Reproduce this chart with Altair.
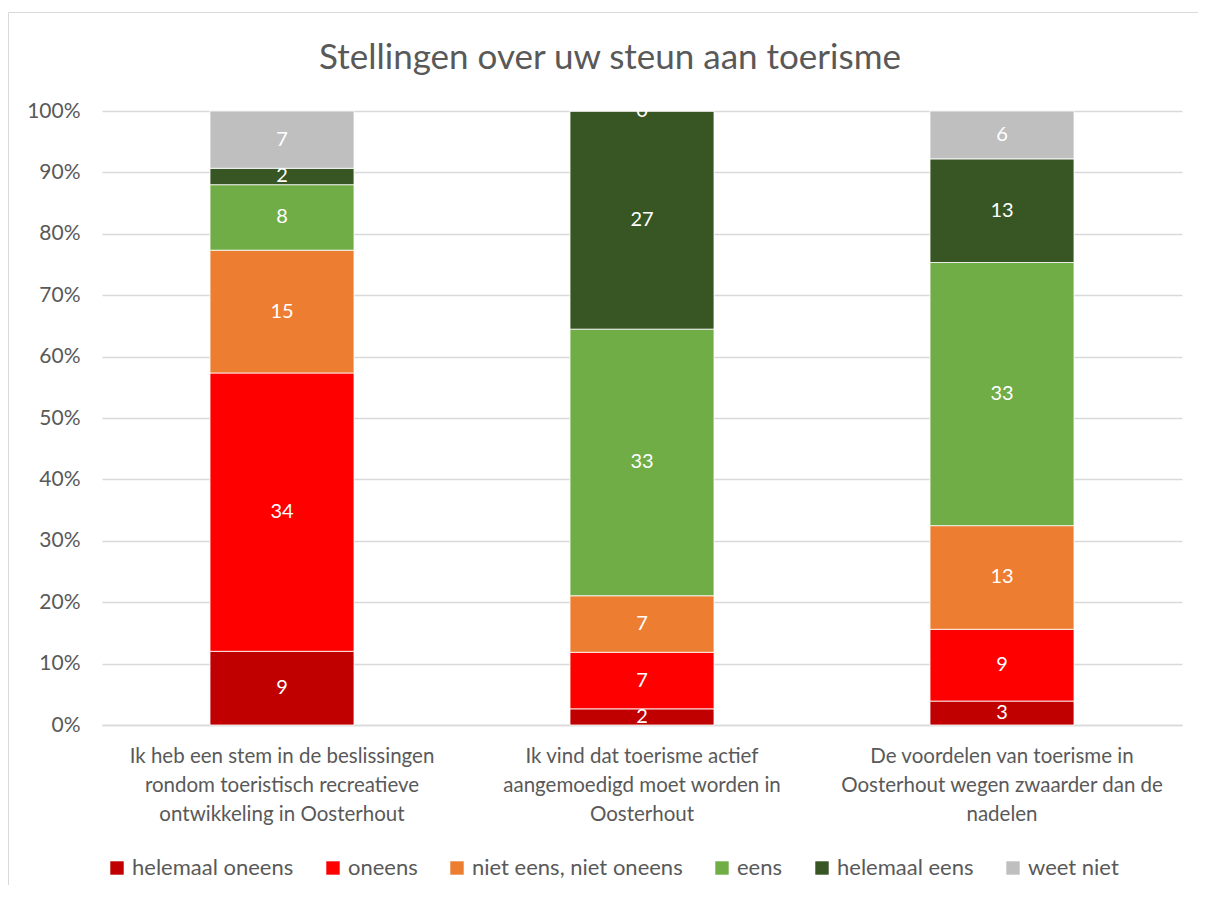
import altair as alt
import pandas as pd

# ---- data ----
categories = [
    ["Ik heb een stem in de beslissingen", "rondom toeristisch recreatieve", "ontwikkeling in Oosterhout"],
    ["Ik vind dat toerisme actief", "aangemoedigd moet worden in", "Oosterhout"],
    ["De voordelen van toerisme in", "Oosterhout wegen zwaarder dan de", "nadelen"],
]
series = ["helemaal oneens", "oneens", "niet eens, niet oneens", "eens", "helemaal eens", "weet niet"]
colors = ["#C00000", "#FF0000", "#ED7D31", "#70AD47", "#375623", "#BFBFBF"]

helemaal_oneens = [9, 2, 3]
oneens = [34, 7, 9]
niet_eens_niet_oneens = [15, 7, 13]
eens = [8, 33, 33]
helemaal_eens = [2, 27, 13]
weet_niet = [7, 0, 6]

values = [helemaal_oneens, oneens, niet_eens_niet_oneens, eens, helemaal_eens, weet_niet]

cat_keys = ["|".join(c) for c in categories]
rows = []
for si, s in enumerate(series):
    for ci, c in enumerate(cat_keys):
        rows.append({"cat": c, "serie": s, "order": si, "value": values[si][ci]})
df = pd.DataFrame(rows)

FONT = "Lato"
GREY = "#595959"
GRID = "#D9D9D9"

base = alt.Chart(df)

x_enc = alt.X(
    "cat:N",
    sort=cat_keys,
    scale=alt.Scale(paddingInner=0.6, paddingOuter=0.3),
    axis=alt.Axis(
        title=None,
        labelAngle=0,
        labelExpr="split(datum.label, '|')",
        labelFontSize=20.5,
        labelLineHeight=29,
        labelPadding=21,
        labelColor=GREY,
        labelFont=FONT,
        labelLimit=0,
        ticks=False,
        domainColor=GRID,
        domainWidth=1.5,
    ),
)

bars = base.mark_bar(stroke="white", strokeWidth=0.8).encode(
    x=x_enc,
    y=alt.Y(
        "value:Q",
        stack="normalize",
        scale=alt.Scale(domain=[0, 1], nice=False),
        axis=alt.Axis(
            title=None,
            format="%",
            values=[i / 10 for i in range(11)],
            labelFontSize=21,
            labelColor=GREY,
            labelFont=FONT,
            labelPadding=22,
            ticks=False,
            domain=False,
            gridColor=GRID,
            gridWidth=1.5,
        ),
    ),
    color=alt.Color(
        "serie:N",
        sort=series,
        scale=alt.Scale(domain=series, range=colors),
        legend=alt.Legend(
            title=None,
            orient="none",
            direction="horizontal",
            legendX=4,
            legendY=746,
            symbolType="square",
            symbolSize=180,
            symbolStrokeWidth=0,
            labelFontSize=22,
            labelColor=GREY,
            labelFont=FONT,
            columnPadding=28,
            labelOffset=4,
            padding=0,
            labelLimit=0,
        ),
    ),
    order=alt.Order("order:Q", sort="ascending"),
)

labels = (
    base.transform_stack(
        stack="value", groupby=["cat"], sort=[alt.SortField("order")],
        as_=["y0", "y1"], offset="normalize",
    )
    .transform_calculate(mid="(datum.y0 + datum.y1) / 2")
    .mark_text(color="white", fontSize=20, font=FONT, baseline="middle", clip=True)
    .encode(x=alt.X("cat:N", sort=cat_keys), y=alt.Y("mid:Q"), text="value:Q")
)

frame_df = pd.DataFrame({"k": [0]})
frame_v = alt.Chart(frame_df).mark_rule(color=GRID, strokeWidth=1).encode(
    x=alt.value(-93.5), y=alt.value(-98.5), y2=alt.value(900)
)
frame_h = alt.Chart(frame_df).mark_rule(color=GRID, strokeWidth=1).encode(
    x=alt.value(-93.5), x2=alt.value(1300), y=alt.value(-98.5)
)

chart = (
    alt.layer(frame_v, frame_h, bars, labels)
    .properties(
        width=1080,
        height=614,
        title=alt.TitleParams(
            "Stellingen over uw steun aan toerisme",
            fontSize=35,
            font=FONT,
            fontWeight="normal",
            color=GREY,
            anchor="middle",
            baseline="alphabetic",
            dx=-32,
            offset=-92,
        ),
        autosize=alt.AutoSizeParams(type="none"),
        padding={"left": 94, "top": 103, "right": 16, "bottom": 160},
    )
    .configure_view(stroke=None)
)

chart.save("out.html", embed_options={"renderer": "svg", "actions": False})
